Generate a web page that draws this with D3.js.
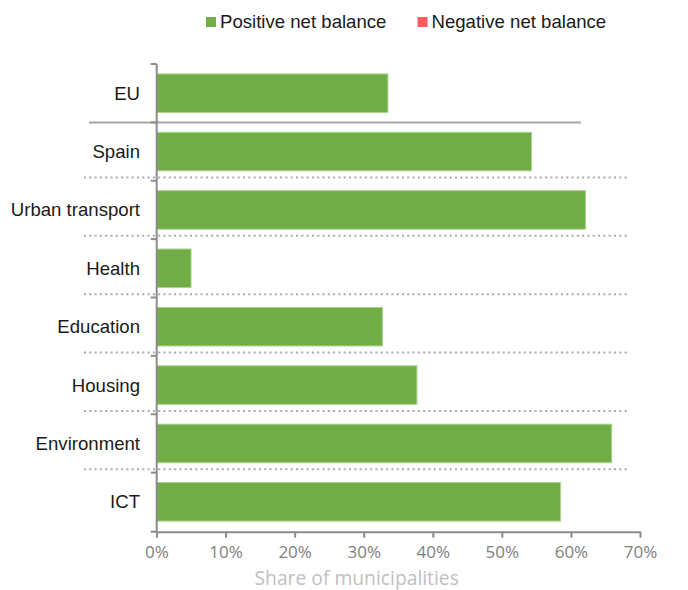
<!DOCTYPE html>
<html>
<head>
<meta charset="utf-8">
<script src="https://cdn.jsdelivr.net/npm/d3@7"></script>
<style>
  html, body { margin: 0; padding: 0; background: #fff; }
  svg { display: block; }
</style>
</head>
<body>
<svg id="chart" width="688" height="590"></svg>
<script>
// ---- data ----
const categories = ["EU", "Spain", "Urban transport", "Health", "Education", "Housing", "Environment", "ICT"];
const positiveValues = [33.5, 54.3, 62.1, 5.0, 32.7, 37.7, 65.9, 58.5];
const negativeValues = [0, 0, 0, 0, 0, 0, 0, 0];
const xTicks = [0, 10, 20, 30, 40, 50, 60, 70];
const seriesNames = ["Positive net balance", "Negative net balance"];
const seriesColors = ["#70ad47", "#ff5a5f"];
const axisTitle = "Share of municipalities";

// ---- layout ----
const svg = d3.select("#chart");
const x = d3.scaleLinear().domain([0, 70]).range([156.5, 640]);
const y = d3.scaleBand().domain(categories).range([64, 531]).paddingInner(0.34).paddingOuter(0.17);
const axisColor = "#8c8c8c";
const sepColor = "#a6a6a6";

// separators: solid under EU, dotted between others
const step = y.step();
const boundaries = categories.slice(1).map(c => y(c) - y.paddingInner() * step / 2);
svg.append("line")
  .attr("x1", 89).attr("x2", 581)
  .attr("y1", boundaries[0]).attr("y2", boundaries[0])
  .attr("stroke", sepColor).attr("stroke-width", 2);
svg.selectAll("line.dot")
  .data(boundaries.slice(1))
  .enter().append("line")
  .attr("class", "dot")
  .attr("x1", 84).attr("x2", 628)
  .attr("y1", d => d - 3.3).attr("y2", d => d - 3.3)
  .attr("stroke", "#a9a9a9").attr("stroke-width", 2)
  .attr("stroke-dasharray", "2,3.3");

// bars
svg.selectAll("rect.pos")
  .data(categories)
  .enter().append("rect")
  .attr("class", "pos")
  .attr("x", x(0))
  .attr("y", d => y(d))
  .attr("width", (d, i) => x(positiveValues[i]) - x(0))
  .attr("height", y.bandwidth())
  .attr("fill", seriesColors[0])
  .attr("stroke", "#a8d48c").attr("stroke-width", 1);

svg.selectAll("rect.neg")
  .data(categories)
  .enter().append("rect")
  .attr("class", "neg")
  .attr("x", (d, i) => x(positiveValues[i]))
  .attr("y", d => y(d))
  .attr("width", (d, i) => x(negativeValues[i]) - x(0))
  .attr("height", y.bandwidth())
  .attr("fill", seriesColors[1]);

// y axis line + ticks at band boundaries
const yAxisX = x(0) + 0.2;
svg.append("line")
  .attr("x1", yAxisX).attr("x2", yAxisX)
  .attr("y1", 64).attr("y2", 531.7)
  .attr("stroke", axisColor).attr("stroke-width", 2);
const yTickPos = [64].concat(boundaries, [531.7]);
svg.selectAll("line.ytick")
  .data(yTickPos)
  .enter().append("line")
  .attr("class", "ytick")
  .attr("x1", yAxisX - 6).attr("x2", yAxisX)
  .attr("y1", d => d).attr("y2", d => d)
  .attr("stroke", axisColor).attr("stroke-width", 2);

// category labels
svg.selectAll("text.cat")
  .data(categories)
  .enter().append("text")
  .attr("class", "cat")
  .attr("x", 140)
  .attr("y", d => y(d) + y.bandwidth() / 2)
  .attr("dy", "0.35em")
  .attr("text-anchor", "end")
  .attr("font-family", "'Liberation Sans', Arial, sans-serif")
  .attr("font-size", 18.6)
  .attr("fill", "#1a1a1a")
  .text(d => d);

// x axis
const xAxis = d3.axisBottom(x)
  .tickValues(xTicks)
  .tickFormat(d => d + "%")
  .tickSize(6)
  .tickSizeOuter(0)
  .tickPadding(8);
const gx = svg.append("g").attr("transform", "translate(0,531.7)").call(xAxis);
gx.select(".domain").attr("stroke", axisColor).attr("stroke-width", 2);
gx.selectAll(".tick line").attr("stroke", axisColor).attr("stroke-width", 2);
gx.selectAll(".tick text")
  .attr("font-family", "'Open Sans', 'Noto Sans', sans-serif")
  .attr("font-size", 17)
  .attr("fill", "#808080");

// axis title
svg.append("text")
  .attr("x", 356.7).attr("y", 585)
  .attr("text-anchor", "middle")
  .attr("font-family", "'Open Sans', 'Noto Sans', sans-serif")
  .attr("font-size", 19.3)
  .attr("fill", "#bfbfbf")
  .text(axisTitle);

// legend
const legendX = [206, 417.5];
const lg = svg.selectAll("g.legend")
  .data(seriesNames)
  .enter().append("g")
  .attr("class", "legend")
  .attr("transform", (d, i) => `translate(${legendX[i]},0)`);
lg.append("rect")
  .attr("x", 0).attr("y", 17).attr("width", 10).attr("height", 10)
  .attr("fill", (d, i) => seriesColors[i]);
lg.append("text")
  .attr("x", 14).attr("y", 28)
  .attr("font-family", "'Liberation Sans', Arial, sans-serif")
  .attr("font-size", 18.6)
  .attr("fill", "#1a1a1a")
  .text(d => d);
</script>
</body>
</html>
